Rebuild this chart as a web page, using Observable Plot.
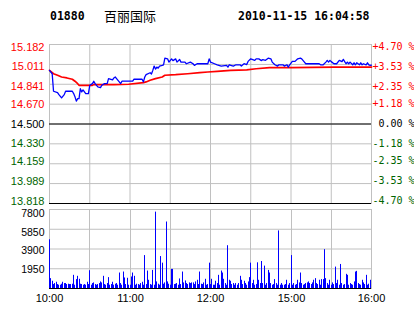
<!DOCTYPE html>
<html><head><meta charset="utf-8">
<script src="https://cdn.jsdelivr.net/npm/d3@7"></script>
<script src="https://cdn.jsdelivr.net/npm/@observablehq/plot@0.6"></script>
<style>
html,body{margin:0;padding:0;background:#fff;width:414px;height:314px;overflow:hidden;}
#wrap{position:relative;width:414px;height:314px;}
.hdr{position:absolute;line-height:1;white-space:nowrap;color:#000;z-index:2;}
.mono{font-family:"DejaVu Sans Mono",monospace;font-weight:bold;font-size:11.5px;}
#name{font-family:"Noto Sans CJK SC",sans-serif;font-size:13px;}
.panel{position:absolute;left:0;}
.panel svg{display:block;}
</style></head><body>
<div id="wrap">
  <div class="panel" id="price" style="top:0px"></div>
  <div class="panel" id="vol" style="top:200px"></div>
  <div class="hdr mono" id="code" style="left:50px;top:11px"></div>
  <div class="hdr" id="name" style="left:104px;top:8.5px"></div>
  <div class="hdr mono" id="stamp" style="left:238px;top:11px"></div>
</div>
<script>
// ---- header ----
const stockCode = "01880";
const stockName = "百丽国际";
const stamp = "2010-11-15 16:04:58";

// ---- price panel ----
const prevClose = 14.5;
const priceTicks = [15.182, 15.011, 14.841, 14.670, 14.500, 14.330, 14.159, 13.989, 13.818];
const priceTickLabels = ["15.182","15.011","14.841","14.670","14.500","14.330","14.159","13.989","13.818"];
const pctTickLabels = ["+4.70 %","+3.53 %","+2.35 %","+1.18 %","\u00a00.00 %","-1.18 %","-2.35 %","-3.53 %","-4.70 %"];

// trading minutes after 10:00 (lunch break skipped)
const gridMinutes = [30, 60, 90, 120, 150, 180, 210];
const timeTicks = [0, 60, 120, 180, 240];
const timeLabels = ["10:00","11:00","12:00","15:00","16:00"];

const priceMinutes = [0,2,3,6,7,9,11,12,17,18,19,20,21,22,23,24,25,27,29,30,32,33,34,36,38,39,41,43,44,47,48,49,50,52,53,54,62,63,69,70,71,72,75,76,77,78,79,80,81,82,84,85,86,88,89,91,92,94,95,97,98,101,102,105,107,108,110,118,119,120,123,125,128,132,133,134,137,139,142,143,145,147,148,150,153,154,156,158,159,161,163,165,166,168,170,171,174,175,177,178,179,181,183,185,187,188,190,191,201,202,204,206,207,208,209,210,212,214,216,218,219,221,222,223,224,226,227,228,229,231,232,233,234,236,237,238,239,240];
const priceValues = [14.960,14.931,14.781,14.769,14.752,14.724,14.752,14.781,14.781,14.761,14.733,14.696,14.718,14.718,14.803,14.775,14.792,14.761,14.761,14.832,14.846,14.867,14.846,14.818,14.812,14.832,14.846,14.846,14.889,14.878,14.895,14.903,14.889,14.861,14.846,14.867,14.867,14.884,14.884,14.861,14.903,14.923,14.940,14.929,14.960,14.997,14.971,14.988,14.980,14.997,15.003,15.008,15.065,15.059,15.031,15.059,15.044,15.059,15.031,15.054,15.031,15.031,15.017,15.031,15.017,15.003,15.017,15.017,15.059,15.031,15.017,15.008,14.997,15.003,14.988,15.008,14.997,15.008,15.008,14.997,15.017,15.010,15.037,15.059,15.046,15.059,15.059,15.044,15.052,15.046,15.065,15.059,15.031,15.008,14.997,15.008,15.008,14.997,15.008,14.988,15.008,15.037,15.037,15.059,15.065,15.059,15.031,15.017,15.017,15.008,15.008,15.031,15.046,15.031,15.046,15.035,15.017,15.017,15.046,15.035,15.054,15.017,15.031,15.017,15.031,15.008,15.025,15.008,15.025,15.008,15.025,15.008,15.017,15.008,15.025,15.008,15.003,15.005];

const avgMinutes = [0,3,6,9,13,17,19,21,22,32,33,48,59,70,72,75,79,84,86,94,103,112,118,125,135,147,154,164,180,212,240];
const avgValues = [14.960,14.931,14.918,14.903,14.895,14.884,14.867,14.846,14.832,14.832,14.838,14.838,14.841,14.855,14.861,14.875,14.889,14.903,14.918,14.923,14.931,14.940,14.946,14.952,14.960,14.965,14.974,14.983,14.983,14.988,14.988];

// ---- volume panel ----
const volTicks = [1950, 3900, 5850, 7800];
const volTickLabels = ["1950","3900","5850","7800"];
const volumes = [
  4810,975,715,390,488,617,390,325,325,422,
  617,488,488,390,422,390,390,422,1300,325,
  878,1203,910,422,390,325,390,325,617,390,
  1755,325,488,552,390,325,390,488,650,552,
  1203,390,325,488,1073,325,390,617,325,422,
  488,325,1528,488,325,1625,1040,390,1008,325,
  325,1138,1528,1203,325,422,390,325,488,617,
  325,3250,390,1723,813,390,325,1788,325,7540,
  650,422,325,3153,2503,422,552,6565,650,422,
  325,1885,1885,390,422,488,325,943,390,1625,
  552,747,488,390,552,488,552,552,390,650,
  813,390,1625,422,390,552,910,325,390,2503,
  390,910,325,325,715,488,1300,325,1723,1528,
  910,488,325,4225,813,715,390,488,325,488,
  325,488,1203,813,390,715,488,325,650,1073,
  2503,488,813,325,390,2535,813,488,2665,488,
  2210,325,488,1788,1528,488,325,390,878,488,
  325,5688,325,488,325,325,390,813,325,488,
  3250,325,488,325,390,813,552,1528,488,325,
  390,488,552,650,488,390,552,813,975,488,
  390,813,325,878,878,3835,975,488,325,813,
  325,552,390,2113,488,813,325,2373,488,325,
  390,1398,1300,325,488,390,325,650,1625,1690,
  488,390,325,813,552,390,1300,325,422,813
];

const upColor = "#ff0000", downColor = "#006400", gridColor = "#c0c0c0";
const tickColor = t => t > prevClose ? upColor : t < prevClose ? downColor : "#000000";

document.getElementById("code").textContent = stockCode;
document.getElementById("name").textContent = stockName;
document.getElementById("stamp").textContent = stamp;

const priceRows = priceMinutes.map((m, i) => ({m, v: priceValues[i]}));
const avgRows = avgMinutes.map((m, i) => ({m, v: avgValues[i]}));

// label rows: the reference nudges labels slightly toward the middle of the panel
const priceLabelRows = priceTicks.map((t, i) => ({t, left: priceTickLabels[i], right: pctTickLabels[i]}));
const labelNudge = t => t > prevClose + 0.2 ? 2.5 : t < prevClose - 0.2 ? -2.5 : 0;

const common = {
  width: 414, marginLeft: 49, marginRight: 43,
  style: {background: "transparent", fontFamily: "'Liberation Sans', Arial, sans-serif", overflow: "visible"}
};

const labelMarks = [];
for (const nudge of [2.5, 0, -2.5]) {
  const rows = priceLabelRows.filter(r => labelNudge(r.t) === nudge);
  labelMarks.push(
    Plot.text(rows, {y: "t", text: "left", frameAnchor: "left", textAnchor: "end", dx: -5, dy: nudge,
      fill: r => tickColor(r.t), fontSize: 11}),
    Plot.text(rows, {y: "t", text: "right", frameAnchor: "right", textAnchor: "start", dx: 1, dy: nudge,
      fill: r => tickColor(r.t), fontSize: 10, fontFamily: "'DejaVu Sans Mono', monospace"})
  );
}

const pricePlot = Plot.plot({
  ...common, height: 210, marginTop: 44, marginBottom: 7,
  x: {domain: [0, 240], axis: null},
  y: {domain: [priceTicks[priceTicks.length - 1], priceTicks[0]], axis: null},
  color: {type: "identity"},
  marks: [
    Plot.ruleX(gridMinutes, {stroke: gridColor}),
    Plot.ruleY(priceTicks, {stroke: gridColor}),
    Plot.frame({stroke: gridColor}),
    Plot.ruleY([prevClose, priceTicks[priceTicks.length - 1]], {stroke: "#000"}),
    Plot.line(avgRows, {x: "m", y: "v", stroke: "#ff0000", strokeWidth: 1.7}),
    Plot.line(priceRows, {x: "m", y: "v", stroke: "#0000ff", strokeWidth: 1.3}),
    ...labelMarks
  ]
});
document.getElementById("price").appendChild(pricePlot);

const volLabelMarks = volTicks.map((t, i) =>
  Plot.text([volTickLabels[i]], {y: () => t, frameAnchor: "left", textAnchor: "end", dx: -5, dy: 1 + i, fontSize: 10.5}));

const volPlot = Plot.plot({
  ...common, height: 114, marginTop: 9, marginBottom: 26,
  x: {domain: [0, 240], axis: null, round: true},
  y: {domain: [0, volTicks[volTicks.length - 1]], axis: null},
  marks: [
    Plot.ruleX(gridMinutes, {stroke: gridColor}),
    Plot.ruleY(volTicks, {stroke: gridColor}),
    Plot.frame({stroke: gridColor}),
    Plot.ruleX(volumes, {x: (d, i) => i, y: d => d, stroke: "#0000ff"}),
    Plot.ruleY([0], {stroke: "#000"}),
    ...volLabelMarks,
    Plot.text(timeLabels, {x: (d, i) => timeTicks[i], frameAnchor: "bottom", lineAnchor: "top", dy: 6, fontSize: 11})
  ]
});
document.getElementById("vol").appendChild(volPlot);
</script>
</body></html>
